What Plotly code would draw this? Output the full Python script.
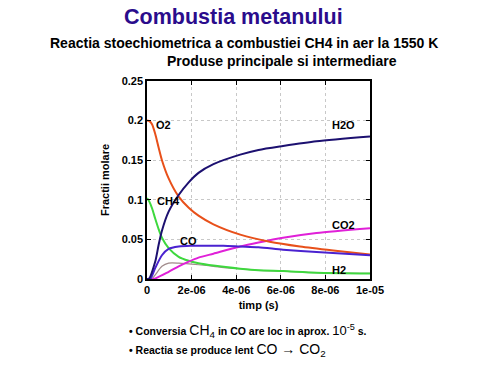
import plotly.graph_objects as go

# time points (s)
t_o2 = [0, 0.12e-6, 0.23e-6, 0.37e-6, 0.52e-6, 0.67e-6, 0.97e-6, 1.42e-6, 1.87e-6, 2.31e-6, 2.98e-6, 4.18e-6, 5.5e-6, 6.86e-6, 8.35e-6, 1.0e-5]
o2 = [0.2, 0.199, 0.195, 0.183, 0.166, 0.150, 0.127, 0.104, 0.090, 0.080, 0.069, 0.056, 0.047, 0.041, 0.036, 0.031]

t_h2o = [0, 0.08e-6, 0.37e-6, 0.52e-6, 0.67e-6, 0.97e-6, 1.42e-6, 1.87e-6, 2.31e-6, 2.98e-6, 4.18e-6, 5.0e-6, 6.1e-6, 7.6e-6, 1.0e-5]
h2o = [0, 0.0, 0.022, 0.043, 0.061, 0.085, 0.106, 0.122, 0.134, 0.145, 0.157, 0.163, 0.168, 0.174, 0.180]

t_ch4 = [0, 0.1e-6, 0.23e-6, 0.37e-6, 0.52e-6, 0.67e-6, 0.97e-6, 1.42e-6, 1.87e-6, 2.31e-6, 2.98e-6, 4.18e-6, 5.0e-6, 6.1e-6, 7.6e-6, 1.0e-5]
ch4 = [0.102, 0.098, 0.089, 0.076, 0.063, 0.052, 0.039, 0.028, 0.023, 0.020, 0.017, 0.013, 0.011, 0.010, 0.008, 0.007]

t_co = [0, 0.15e-6, 0.37e-6, 0.67e-6, 0.97e-6, 1.42e-6, 1.94e-6, 2.69e-6, 3.43e-6, 4.18e-6, 5.0e-6, 6.1e-6, 7.6e-6, 1.0e-5]
co = [0, 0.0, 0.014, 0.030, 0.038, 0.041, 0.042, 0.042, 0.042, 0.041, 0.040, 0.037, 0.034, 0.030]

t_co2 = [0, 0.3e-6, 0.97e-6, 1.42e-6, 1.87e-6, 2.31e-6, 2.98e-6, 4.18e-6, 5.0e-6, 6.1e-6, 7.6e-6, 1.0e-5]
co2 = [0, 0.0, 0.009, 0.016, 0.022, 0.027, 0.032, 0.041, 0.046, 0.052, 0.058, 0.064]

t_h2 = [0, 0.2e-6, 0.67e-6, 0.97e-6, 1.42e-6, 2.31e-6, 2.98e-6, 3.6e-6, 4.18e-6, 5.0e-6, 6.1e-6, 7.6e-6, 1.0e-5]
h2 = [0, 0.0, 0.016, 0.020, 0.020, 0.018, 0.016, 0.014, 0.013, 0.011, 0.010, 0.008, 0.007]

x_ticks = [0, 2e-6, 4e-6, 6e-6, 8e-6, 1e-5]
x_labels = ["0", "2e-06", "4e-06", "6e-06", "8e-06", "1e-05"]
y_ticks = [0, 0.05, 0.1, 0.15, 0.2, 0.25]
y_labels = ["0", "0.05", "0.1", "0.15", "0.2", "0.25"]

curve_labels = ["O2", "CH4", "CO", "H2O", "CO2", "H2"]
label_x = [0.75e-6, 0.95e-6, 1.85e-6, 8.8e-6, 8.8e-6, 8.6e-6]
label_y = [0.195, 0.098, 0.048, 0.195, 0.068, 0.011]

FONT = "Liberation Sans, Arial, sans-serif"

fig = go.Figure()
series = [
    (t_h2, h2, "#a08a8a", 1.2),
    (t_ch4, ch4, "#3ed83e", 2),
    (t_co2, co2, "#e020d8", 2),
    (t_o2, o2, "#e8501a", 2),
    (t_co, co, "#4a22d0", 2),
    (t_h2o, h2o, "#1c1070", 2),
]
for tx, ty, col, w in series:
    fig.add_trace(go.Scatter(x=tx, y=ty, mode="lines",
                             line=dict(color=col, width=w, shape="spline", smoothing=0.7),
                             showlegend=False, hoverinfo="skip"))

for txt, lx, ly in zip(curve_labels, label_x, label_y):
    fig.add_annotation(x=lx, y=ly, text=txt, showarrow=False, xref="x", yref="y",
                       font=dict(family=FONT, size=11, color="black", weight="bold"))

fig.update_xaxes(range=[0, 1e-5], tickvals=x_ticks, ticktext=x_labels,
                 showline=True, linecolor="black", linewidth=1.5, mirror="allticks",
                 ticks="inside", ticklen=4, tickcolor="black",
                 showgrid=True, gridcolor="#c8c8c8", griddash="dot", gridwidth=1,
                 zeroline=False,
                 tickfont=dict(family=FONT, size=11, color="black", weight="bold"),
                 title=dict(text="timp (s)", font=dict(family=FONT, size=11, color="black", weight="bold"), standoff=6))
fig.update_yaxes(range=[0, 0.25], tickvals=y_ticks, ticktext=y_labels,
                 showline=True, linecolor="black", linewidth=1.5, mirror="allticks",
                 ticks="inside", ticklen=4, tickcolor="black",
                 showgrid=True, gridcolor="#c8c8c8", griddash="dot", gridwidth=1,
                 zeroline=False,
                 tickfont=dict(family=FONT, size=11, color="black", weight="bold"),
                 title=dict(text="Fractii molare", font=dict(family=FONT, size=11, color="black", weight="bold"), standoff=10))

pw = 370 - 147
ph = 279 - 81


def px(x):
    return (x - 147) / pw


def py(y):
    return (279 - y) / ph


def note(x, y, text, size, color="black", xanchor="center"):
    fig.add_annotation(x=px(x), y=py(y), xref="paper", yref="paper", showarrow=False,
                       xanchor=xanchor, yanchor="middle", text=text,
                       font=dict(family=FONT, size=size, color=color))


note(233, 17, "<b>Combustia metanului</b>", 21.5, color="#2a0c8c")
note(244, 43, "<b>Reactia stoechiometrica a combustiei CH4 in aer la 1550 K</b>", 14)
note(282, 61, "<b>Produse principale si intermediare</b>", 14)
note(127, 331, "<b>• Conversia</b> <span style='font-size:14px'>CH<sub>4</sub></span> <b>in CO are loc in aprox.</b> <span style='font-size:13px'>10<sup>-5</sup></span> <b>s.</b>", 10.5, xanchor="left")
note(127, 350, "<b>• Reactia se produce lent</b> <span style='font-size:14px'>CO → CO<sub>2</sub></span>", 10.5, xanchor="left")

fig.update_layout(width=489, height=372,
                  margin=dict(l=147, r=119, t=81, b=93, autoexpand=False),
                  paper_bgcolor="white", plot_bgcolor="white")

fig.write_html("out.html", config={"displayModeBar": False},
               post_script="document.body.style.margin='0';")
